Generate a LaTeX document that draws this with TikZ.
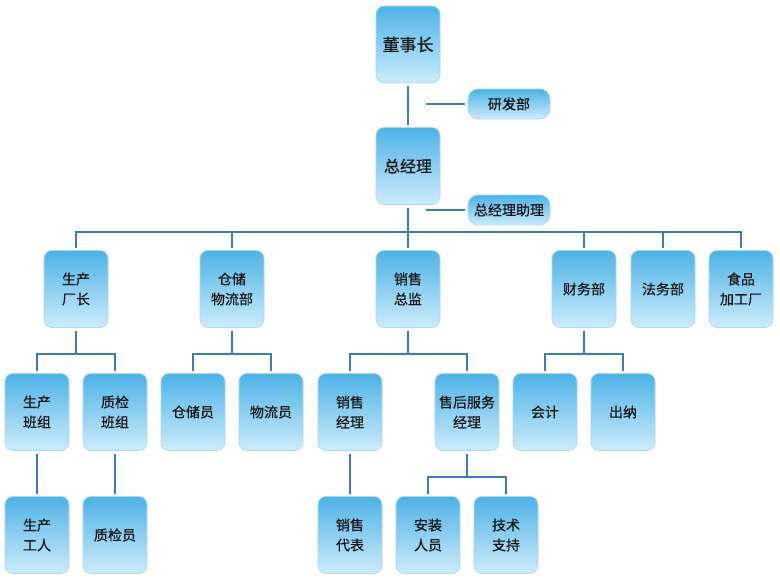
\documentclass[tikz,border=0pt]{standalone}
\usepackage{fontspec}
\setmainfont{Noto Sans CJK SC}[FakeBold=0.4]
\usetikzlibrary{positioning}

\definecolor{kuangding}{HTML}{4DB2E6}
\definecolor{kuangdi}{HTML}{CDECFB}
\definecolor{kuangbian}{HTML}{A8DAF3}
\definecolor{xianse}{HTML}{3B7CB6}
\definecolor{zise}{HTML}{141414}

\tikzset{
  bumen/.style={rounded corners=8pt, top color=kuangding, bottom color=kuangdi,
    draw=kuangbian, line width=0.6pt, minimum width=64pt, minimum height=77pt,
    align=center, text=zise, font=\fontsize{14}{20}\selectfont, outer sep=3pt},
  fuzhu/.style={bumen, rounded corners=10pt, minimum width=82pt, minimum height=30pt,
    font=\fontsize{14}{16}\selectfont},
  lianxian/.style={draw=xianse, line width=2pt}
}

\begin{document}
\begin{tikzpicture}[x=1pt, y=-1pt]
  \fill[white] (0,0) rectangle (780,579);
  \useasboundingbox (0,0) rectangle (780,579);

  % 顶层
  \node[bumen, font=\fontsize{17}{20}\selectfont] (dsz) at (408,44.5) {董事长};
  \node[bumen, font=\fontsize{16}{20}\selectfont] (zjl) at (408,166) {总经理};
  \node[fuzhu] (yfb) at (509,104) {研发部};
  \node[fuzhu] (zlb) at (509,210) {总经理助理};

  % 第二层
  \node[bumen] (sccz) at (76,289)  {生产\\厂长};
  \node[bumen] (ccwl) at (232,289) {仓储\\物流部};
  \node[bumen] (xszj) at (408,289) {销售\\总监};
  \node[bumen] (cwb)  at (584,289) {财务部};
  \node[bumen] (fwb)  at (663,289) {法务部};
  \node[bumen] (spjg) at (741,289) {食品\\加工厂};

  % 第三层
  \node[bumen] (scbz) at (37,412)  {生产\\班组};
  \node[bumen] (zjbz) at (115,412) {质检\\班组};
  \node[bumen] (ccy)  at (193,412) {仓储员};
  \node[bumen] (wly)  at (271,412) {物流员};
  \node[bumen] (xsjl) at (350,412) {销售\\经理};
  \node[bumen] (shfw) at (467,412) {售后服务\\经理};
  \node[bumen] (kj)   at (545,412) {会计};
  \node[bumen] (cn)   at (623,412) {出纳};

  % 第四层
  \node[bumen] (scgr) at (37,535)  {生产\\工人};
  \node[bumen] (zjy)  at (115,535) {质检员};
  \node[bumen] (xsdb) at (350,535) {销售\\代表};
  \node[bumen] (azry) at (428,535) {安装\\人员};
  \node[bumen] (jszc) at (506,535) {技术\\支持};

  % 主干
  \draw[lianxian] (dsz) -- (zjl);
  \coordinate (yf0) at (426,104);
  \coordinate (zl0) at (426,210);
  \draw[lianxian] (yf0) -- (yfb);
  \draw[lianxian] (zl0) -- (zlb);

  \coordinate (zg) at (408,232);
  \draw[lianxian] (zjl) -- (zg);
  \foreach \n in {sccz,ccwl,xszj,cwb,fwb,spjg}
    \draw[lianxian] (zg) -| (\n.north);

  % 第二层到第三层
  \foreach \p/\c in {sccz/scbz, sccz/zjbz, ccwl/ccy, ccwl/wly,
                     xszj/xsjl, xszj/shfw, cwb/kj, cwb/cn}
    \draw[lianxian] (\p.south) -- ++(0,23) -| (\c.north);

  % 第三层到第四层
  \draw[lianxian] (scbz) -- (scgr);
  \draw[lianxian] (zjbz) -- (zjy);
  \draw[lianxian] (xsjl) -- (xsdb);
  \foreach \c in {azry,jszc}
    \draw[lianxian] (shfw.south) -- ++(0,23) -| (\c.north);
\end{tikzpicture}
\end{document}
